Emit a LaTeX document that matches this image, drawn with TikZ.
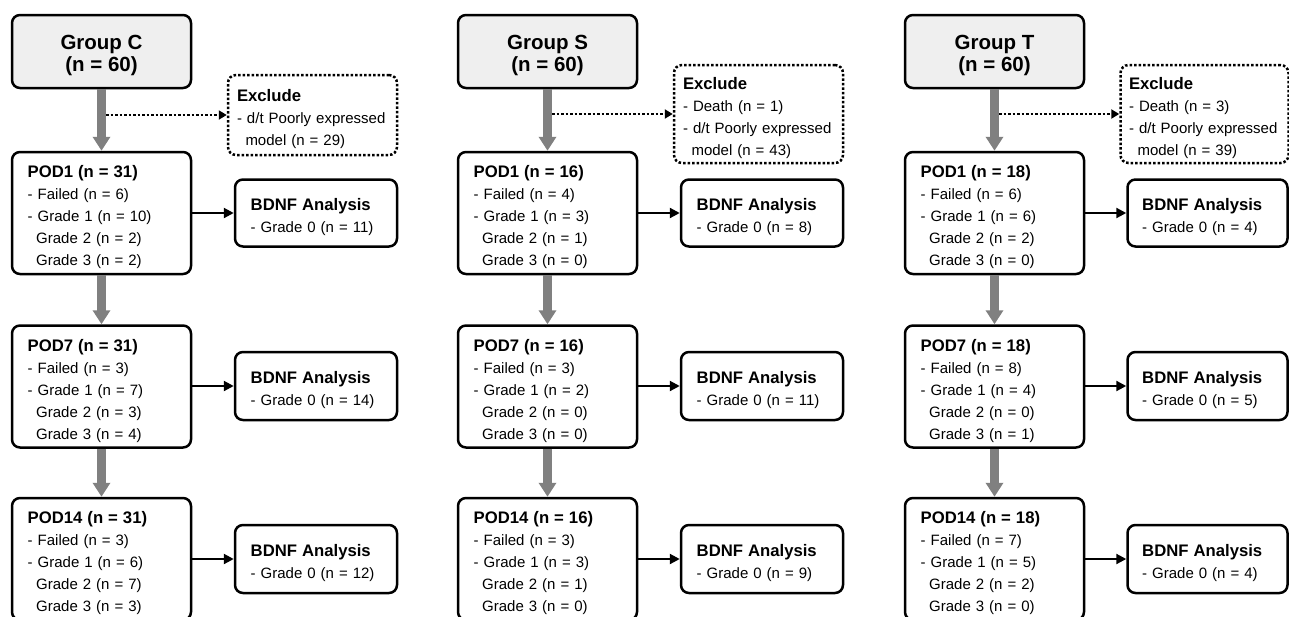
\documentclass[tikz,border=0pt]{standalone}
\usepackage{fontspec}
\setmainfont{Liberation Sans}
\usetikzlibrary{arrows.meta}
\definecolor{grpfill}{HTML}{EFEFEF}
\definecolor{flowgray}{HTML}{808080}
\tikzset{
  boxbase/.style={draw=black, line width=2.5pt, rounded corners=8pt, inner sep=0pt},
  grp/.style={boxbase, fill=grpfill, minimum width=179pt, minimum height=73pt, align=center,
    font=\bfseries\fontsize{20.5}{22}\selectfont},
  podbox/.style={boxbase, fill=white, minimum width=179pt, minimum height=122pt, text width=147.6pt, align=left,
    font=\fontsize{15}{22}\selectfont},
  bdnfbox/.style={boxbase, fill=white, minimum width=162pt, minimum height=67pt, text width=130.6pt, align=left,
    font=\fontsize{15}{22}\selectfont},
  exclbox/.style={boxbase, fill=white, dash pattern=on 2.5pt off 2pt, minimum width=169pt, text width=151pt, align=left,
    font=\fontsize{15}{22}\selectfont},
  flow/.style={draw=flowgray, line width=9pt, -{Triangle[width=17pt,length=14pt]}},
  excl/.style={draw=black, line width=2.5pt, dash pattern=on 2.5pt off 2pt, -{Triangle[width=9pt,length=8pt]}},
  toan/.style={draw=black, line width=2.2pt, -{Triangle[width=10pt,length=10pt]}},
}
\newcommand{\ttl}[1]{\rule{0pt}{20.5pt}{\bfseries\fontsize{16.7}{22}\selectfont #1}}
\newcommand{\gl}{\rule{0pt}{22pt}}
\newcommand{\ind}{\hspace*{8.5pt}}
\begin{document}
\begin{tikzpicture}[x=1pt,y=-1pt]
\useasboundingbox (0,0) rectangle (1289,616);
\clip (0,0) rectangle (1289,616);

% ---------- Column C ----------
\begin{scope}
\node[grp] (cg) at (101.5,51.5) {\gl Group C\\(n = 60)};
\node[exclbox, minimum height=80pt] (ce) at (312.5,115) {\ttl{Exclude}\\- d/t Poorly expressed\\\ind model (n = 29)};
\node[podbox] (cp1) at (101.5,213) {\ttl{POD1 (n = 31)}\\- Failed (n = 6)\\- Grade 1 (n = 10)\\\ind Grade 2 (n = 2)\\\ind Grade 3 (n = 2)};
\node[bdnfbox] (cb1) at (316,213) {\ttl{BDNF Analysis}\\- Grade 0 (n = 11)};
\node[podbox] (cp7) at (101.5,386.5) {\ttl{POD7 (n = 31)}\\- Failed (n = 3)\\- Grade 1 (n = 7)\\\ind Grade 2 (n = 3)\\\ind Grade 3 (n = 4)};
\node[bdnfbox, minimum height=68pt] (cb7) at (316,386) {\ttl{BDNF Analysis}\\- Grade 0 (n = 14)};
\node[podbox] (cp14) at (101.5,559) {\ttl{POD14 (n = 31)}\\- Failed (n = 3)\\- Grade 1 (n = 6)\\\ind Grade 2 (n = 7)\\\ind Grade 3 (n = 3)};
\node[bdnfbox, minimum height=68pt] (cb14) at (316,559) {\ttl{BDNF Analysis}\\- Grade 0 (n = 12)};
\coordinate (cx) at (cg.south |- ce.west);
\draw[excl] (cx) -- (ce.west);
\draw[flow] (cg.south) -- (cp1.north);
\draw[flow] (cp1.south) -- (cp7.north);
\draw[flow] (cp7.south) -- (cp14.north);
\draw[toan] (cp1.east |- cb1.west) -- (cb1.west);
\draw[toan] (cp7.east |- cb7.west) -- (cb7.west);
\draw[toan] (cp14.east |- cb14.west) -- (cb14.west);
\end{scope}

% ---------- Column S ----------
\begin{scope}[xshift=446pt]
\node[grp] (sg) at (101.5,51.5) {\gl Group S\\(n = 60)};
\node[exclbox, minimum height=98pt] (se) at (312.5,114) {\ttl{Exclude}\\- Death (n = 1)\\- d/t Poorly expressed\\\ind model (n = 43)};
\node[podbox] (sp1) at (101.5,213) {\ttl{POD1 (n = 16)}\\- Failed (n = 4)\\- Grade 1 (n = 3)\\\ind Grade 2 (n = 1)\\\ind Grade 3 (n = 0)};
\node[bdnfbox] (sb1) at (316,213) {\ttl{BDNF Analysis}\\- Grade 0 (n = 8)};
\node[podbox] (sp7) at (101.5,386.5) {\ttl{POD7 (n = 16)}\\- Failed (n = 3)\\- Grade 1 (n = 2)\\\ind Grade 2 (n = 0)\\\ind Grade 3 (n = 0)};
\node[bdnfbox, minimum height=68pt] (sb7) at (316,386) {\ttl{BDNF Analysis}\\- Grade 0 (n = 11)};
\node[podbox] (sp14) at (101.5,559) {\ttl{POD14 (n = 16)}\\- Failed (n = 3)\\- Grade 1 (n = 3)\\\ind Grade 2 (n = 1)\\\ind Grade 3 (n = 0)};
\node[bdnfbox, minimum height=68pt] (sb14) at (316,559) {\ttl{BDNF Analysis}\\- Grade 0 (n = 9)};
\coordinate (sx) at (sg.south |- se.west);
\draw[excl] (sx) -- (se.west);
\draw[flow] (sg.south) -- (sp1.north);
\draw[flow] (sp1.south) -- (sp7.north);
\draw[flow] (sp7.south) -- (sp14.north);
\draw[toan] (sp1.east |- sb1.west) -- (sb1.west);
\draw[toan] (sp7.east |- sb7.west) -- (sb7.west);
\draw[toan] (sp14.east |- sb14.west) -- (sb14.west);
\end{scope}

% ---------- Column T ----------
\begin{scope}[xshift=893pt]
\node[grp] (tg) at (101.5,51.5) {\gl Group T\\(n = 60)};
\node[exclbox, minimum height=98pt, minimum width=168pt] (te) at (311.5,114) {\ttl{Exclude}\\- Death (n = 3)\\- d/t Poorly expressed\\\ind model (n = 39)};
\node[podbox] (tp1) at (101.5,213) {\ttl{POD1 (n = 18)}\\- Failed (n = 6)\\- Grade 1 (n = 6)\\\ind Grade 2 (n = 2)\\\ind Grade 3 (n = 0)};
\node[bdnfbox, minimum width=160pt] (tb1) at (314.5,213) {\ttl{BDNF Analysis}\\- Grade 0 (n = 4)};
\node[podbox] (tp7) at (101.5,386.5) {\ttl{POD7 (n = 18)}\\- Failed (n = 8)\\- Grade 1 (n = 4)\\\ind Grade 2 (n = 0)\\\ind Grade 3 (n = 1)};
\node[bdnfbox, minimum width=160pt, minimum height=68pt] (tb7) at (314.5,386) {\ttl{BDNF Analysis}\\- Grade 0 (n = 5)};
\node[podbox] (tp14) at (101.5,559) {\ttl{POD14 (n = 18)}\\- Failed (n = 7)\\- Grade 1 (n = 5)\\\ind Grade 2 (n = 2)\\\ind Grade 3 (n = 0)};
\node[bdnfbox, minimum width=160pt, minimum height=68pt] (tb14) at (314.5,559) {\ttl{BDNF Analysis}\\- Grade 0 (n = 4)};
\coordinate (tx) at (tg.south |- te.west);
\draw[excl] (tx) -- (te.west);
\draw[flow] (tg.south) -- (tp1.north);
\draw[flow] (tp1.south) -- (tp7.north);
\draw[flow] (tp7.south) -- (tp14.north);
\draw[toan] (tp1.east |- tb1.west) -- (tb1.west);
\draw[toan] (tp7.east |- tb7.west) -- (tb7.west);
\draw[toan] (tp14.east |- tb14.west) -- (tb14.west);
\end{scope}
\end{tikzpicture}
\end{document}
